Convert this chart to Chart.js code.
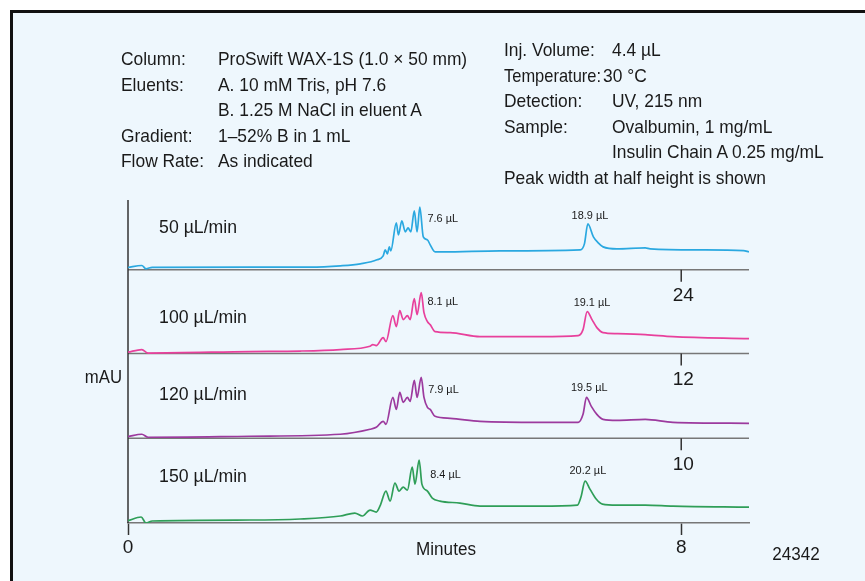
<html><head>
<title>ProSwift WAX-1S flow rate study</title>
<script src="https://cdn.jsdelivr.net/npm/chart.js"></script>
<style>
  body {
    margin: 0;
    background: #fff;
    font-family: "Liberation Sans", Arial, sans-serif;
  }
  #frame {
    position: absolute;
    left: 10px;
    top: 10px;
    width: 900px;
    height: 600px;
    background: #eef7fd;
    border-top: 3px solid #111;
    border-left: 3px solid #111;
  }
  #chart {
    position: absolute;
    left: 0;
    top: 0;
  }
  .t {
    position: absolute;
    font-size: 18.5px;
    line-height: 20px;
    color: #1a1a1a;
    white-space: nowrap;
    transform: scaleX(0.94);
    transform-origin: 0 0;
  }
</style>
</head>
<body>
<div id="frame"></div>
<canvas id="chart" width="865" height="581"></canvas>

<div class="t" style="left:121px;top:48.6px">Column:</div>
<div class="t" style="left:218px;top:48.6px">ProSwift WAX-1S (1.0 × 50 mm)</div>
<div class="t" style="left:121px;top:74.6px">Eluents:</div>
<div class="t" style="left:218px;top:74.6px">A. 10 mM Tris, pH 7.6</div>
<div class="t" style="left:218px;top:100px">B. 1.25 M NaCl in eluent A</div>
<div class="t" style="left:121px;top:125.6px">Gradient:</div>
<div class="t" style="left:218px;top:125.6px">1–52% B in 1 mL</div>
<div class="t" style="left:121px;top:150.6px">Flow Rate:</div>
<div class="t" style="left:218px;top:150.6px">As indicated</div>

<div class="t" style="left:504px;top:40.2px">Inj. Volume:</div>
<div class="t" style="left:612px;top:40.2px">4.4 µL</div>
<div class="t" style="left:504px;top:65.6px;transform:scaleX(0.89)">Temperature:</div>
<div class="t" style="left:603px;top:65.6px">30 °C</div>
<div class="t" style="left:504px;top:91.2px">Detection:</div>
<div class="t" style="left:612px;top:91.2px">UV, 215 nm</div>
<div class="t" style="left:504px;top:116.6px">Sample:</div>
<div class="t" style="left:612px;top:116.6px">Ovalbumin, 1 mg/mL</div>
<div class="t" style="left:612px;top:142.2px">Insulin Chain A 0.25 mg/mL</div>
<div class="t" style="left:504px;top:167.6px">Peak width at half height is shown</div>

<script>
// flow rates, top panel first
const flowRates = ['50 µL/min', '100 µL/min', '120 µL/min', '150 µL/min'];
// time reached at the "8" position for each run
const endTimes = ['24', '12', '10', '8'];
const widthsOvalbumin = ['7.6 µL', '8.1 µL', '7.9 µL', '8.4 µL'];
const widthsInsulin = ['18.9 µL', '19.1 µL', '19.5 µL', '20.2 µL'];
const minuteTicks = [0, 8];

// 50 uL/min
const time50 = [0, 0.20, 0.26, 0.35, 1.76, 2.63, 3.07, 3.36, 3.60, 3.69, 3.72, 3.75, 3.78, 3.80, 3.88, 3.91, 3.96, 4.01, 4.05, 4.09, 4.14, 4.18, 4.22, 4.27, 4.33, 4.37, 4.44, 4.56, 5.38, 6.54, 6.60, 6.65, 6.73, 6.80, 6.87, 7.07, 7.48, 7.55, 8.27, 8.90, 8.98];
const mau50 = [2.3, 4.3, 1, 2.5, 2.6, 2.7, 4, 6, 10, 14, 20, 16, 23, 19, 47, 35, 49, 38, 42, 38, 59, 38, 63, 33, 30, 25, 18, 18, 19, 20, 26, 46, 33, 27, 23, 21, 22, 21, 20, 19.3, 18];

// 100 uL/min
const time100 = [0, 0.20, 0.29, 1.76, 2.49, 3.07, 3.50, 3.54, 3.59, 3.69, 3.73, 3.83, 3.88, 3.93, 3.98, 4.04, 4.08, 4.14, 4.18, 4.24, 4.28, 4.33, 4.37, 4.44, 4.66, 5.09, 5.96, 6.51, 6.58, 6.64, 6.71, 6.78, 6.87, 7.07, 7.48, 7.88, 8.98];
const mau100 = [1.3, 4, 0.5, 2, 2.5, 4, 7.3, 9, 8, 16, 12, 38, 27, 43, 34, 38, 34, 55, 39, 61, 41, 32, 29, 22, 21, 17, 17, 18, 24, 42, 34, 26, 21, 20, 19, 17, 15];

// 120 uL/min
const time120 = [0, 0.20, 0.29, 1.76, 3.07, 3.50, 3.59, 3.69, 3.73, 3.83, 3.88, 3.93, 3.98, 4.04, 4.08, 4.14, 4.18, 4.24, 4.28, 4.33, 4.37, 4.44, 4.66, 5.09, 5.96, 6.51, 6.58, 6.63, 6.70, 6.78, 6.87, 7.07, 7.48, 7.88, 8.98];
const mau120 = [1.7, 4, 1, 2, 4, 9, 11, 17, 14, 41, 29, 46, 36, 41, 37, 58, 41, 61, 41, 31, 29, 22, 20, 17, 16, 16, 24, 41, 32, 24, 19, 18, 19, 16, 15];

// 150 uL/min
const time150 = [0, 0.19, 0.26, 0.35, 1.76, 2.49, 3.07, 3.28, 3.39, 3.50, 3.59, 3.65, 3.73, 3.79, 3.86, 3.92, 3.98, 4.04, 4.11, 4.15, 4.21, 4.25, 4.33, 4.40, 4.51, 4.80, 5.09, 5.96, 6.50, 6.55, 6.61, 6.68, 6.77, 6.86, 7.07, 7.48, 7.88, 8.98];
const mau150 = [2.3, 6, 0, 2, 3, 4, 7, 10, 7, 13, 11, 18, 32, 22, 40, 32, 36, 33, 56, 39, 63, 39, 32, 25, 22, 20, 17, 17, 18, 26, 42, 34, 24, 19, 18, 18, 17, 16];

const times = [time50, time100, time120, time150];
const signals = [mau50, mau100, mau120, mau150];

// layout (stack offsets and label placement, in axis units)
const colors = ['#2aa8e0', '#e8409c', '#9c3a9e', '#2f9e58'];
const panelOffsets = [254, 170, 85, 0];
const flowLabelY = [37, 31, 38, 41];
const peak1X = [4.33, 4.33, 4.34, 4.37];
const peak1Y = [48, 49, 45, 45];
const peak2X = [6.68, 6.71, 6.67, 6.65];
const peak2Y = [50.5, 47.3, 47.3, 49];
const yTop = 324;
const xMax = 8.98;

const FONT = '"Liberation Sans", Arial, sans-serif';

function drawText(ctx, s, x, y, size, align, sx) {
  ctx.save();
  ctx.translate(x, y);
  ctx.scale(sx || 1, 1);
  ctx.font = size + 'px ' + FONT;
  ctx.fillStyle = '#1a1a1a';
  ctx.textAlign = align || 'left';
  ctx.textBaseline = 'alphabetic';
  ctx.fillText(s, 0, 0);
  ctx.restore();
}

const overlay = {
  id: 'overlay',
  beforeDatasetsDraw(chart) {
    const ctx = chart.ctx;
    const x = chart.scales.x, y = chart.scales.y;
    const x0 = x.getPixelForValue(0);
    ctx.save();
    // panel baselines with their own end-time tick
    panelOffsets.forEach((off, i) => {
      if (off === 0) return;
      const py = y.getPixelForValue(off);
      ctx.strokeStyle = '#777';
      ctx.lineWidth = 1.5;
      ctx.beginPath();
      ctx.moveTo(x0, py);
      ctx.lineTo(x.getPixelForValue(xMax), py);
      ctx.stroke();
      const px = x.getPixelForValue(8);
      ctx.strokeStyle = '#333';
      ctx.beginPath();
      ctx.moveTo(px, py);
      ctx.lineTo(px, py + 12);
      ctx.stroke();
      drawText(ctx, endTimes[i], px + 2, py + 31.5, 19, 'center');
    });
    // vertical axis
    ctx.strokeStyle = '#333';
    ctx.lineWidth = 1.5;
    ctx.beginPath();
    ctx.moveTo(x0, y.getPixelForValue(yTop));
    ctx.lineTo(x0, y.getPixelForValue(0));
    ctx.stroke();
    ctx.restore();
  },
  afterDatasetsDraw(chart) {
    const ctx = chart.ctx;
    const x = chart.scales.x, y = chart.scales.y;
    flowRates.forEach((s, i) => {
      const off = panelOffsets[i];
      drawText(ctx, s, x.getPixelForValue(0.45), y.getPixelForValue(off + flowLabelY[i]), 19, 'left', 0.93);
      drawText(ctx, widthsOvalbumin[i], x.getPixelForValue(peak1X[i]), y.getPixelForValue(off + peak1Y[i]), 11.5, 'left', 0.95);
      drawText(ctx, widthsInsulin[i], x.getPixelForValue(peak2X[i]), y.getPixelForValue(off + peak2Y[i]), 11.5, 'center', 0.95);
    });
    drawText(ctx, 'mAU', x.getPixelForValue(0) - 6, 383, 18, 'right', 0.93);
    drawText(ctx, 'Minutes', 446, 555, 18, 'center', 0.95);
    drawText(ctx, '24342', 796, 560, 18, 'center', 0.95);
  }
};

const datasets = flowRates.map((name, i) => ({
  label: name,
  data: times[i].map((t, j) => ({ x: t, y: signals[i][j] + panelOffsets[i] })),
  borderColor: colors[i],
  borderWidth: 1.7,
  pointRadius: 0,
  fill: false,
  cubicInterpolationMode: 'monotone'
}));

new Chart(document.getElementById('chart'), {
  type: 'line',
  data: { datasets: datasets },
  options: {
    responsive: false,
    animation: false,
    layout: { padding: { left: 128, right: 116, top: 200, bottom: 21.2 } },
    plugins: { legend: { display: false }, tooltip: { enabled: false } },
    scales: {
      x: {
        type: 'linear',
        min: 0,
        max: xMax,
        afterBuildTicks: axis => { axis.ticks = minuteTicks.map(v => ({ value: v })); },
        border: { display: true, color: '#777', width: 1.5 },
        grid: { display: true, drawOnChartArea: false, drawTicks: true, tickLength: 12, tickColor: '#333', tickWidth: 1.5 },
        ticks: {
          padding: 1,
          autoSkip: false,
          maxRotation: 0,
          color: '#1a1a1a',
          font: { size: 19, family: FONT },
          callback: v => String(v)
        }
      },
      y: { display: false, min: 0, max: yTop }
    }
  },
  plugins: [overlay]
});
</script>
</body></html>
